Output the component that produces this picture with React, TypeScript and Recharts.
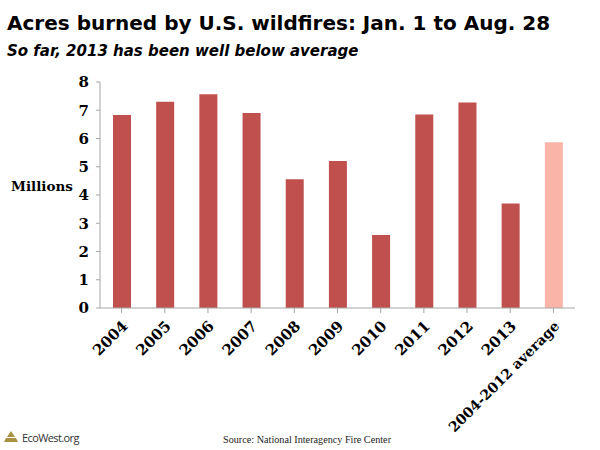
import { BarChart, Bar, Cell, XAxis, YAxis } from "recharts";

const years = ["2004", "2005", "2006", "2007", "2008", "2009", "2010", "2011", "2012", "2013", "2004-2012 average"];
const acres = [6.83, 7.3, 7.57, 6.9, 4.56, 5.2, 2.58, 6.85, 7.27, 3.7, 5.87];
const yTicks = [0, 1, 2, 3, 4, 5, 6, 7, 8];

const data = years.map((year, i) => ({ year, acres: acres[i] }));

const AXIS_FONT = "'DejaVu Serif', serif";
const BAR = "#c0504d";
const BAR_AVG = "#fbb4a8";

function YearTick({ x, y, payload }: any) {
    // the long label already fits at 14, the plain years read a bit wider in the original
    const size = payload.value.length > 4 ? 14 : 15;
    return (
        <text
            x={x + 7}
            y={y + 12}
            transform={`rotate(-45 ${x + 7} ${y + 12})`}
            textAnchor="end"
            fontFamily={AXIS_FONT}
            fontWeight="bold"
            fontSize={size}
            fill="#000"
        >
            {payload.value}
        </text>
    );
}

export default function App() {
    return (
        <div style={{ position: "absolute", left: 0, top: 0, width: 600, height: 450, background: "#fff", overflow: "hidden" }}>
            <BarChart
                width={600}
                height={450}
                data={data}
                margin={{ top: 82, right: 25, bottom: 132, left: 60 }}
                barSize={18}
            >
                <XAxis
                    dataKey="year"
                    interval={0}
                    height={10}
                    tick={<YearTick />}
                    tickLine={{ stroke: "#a6a6a6" }}
                    axisLine={{ stroke: "#a6a6a6" }}
                    tickSize={5}
                />
                <YAxis
                    width={40}
                    domain={[0, 8]}
                    ticks={yTicks}
                    interval={0}
                    tick={{ fontFamily: AXIS_FONT, fontWeight: "bold", fontSize: 15, fill: "#000" }}
                    tickLine={{ stroke: "#a6a6a6" }}
                    axisLine={{ stroke: "#a6a6a6" }}
                    tickSize={4}
                    tickMargin={7}
                />
                <Bar dataKey="acres" isAnimationActive={false}>
                    {data.map((d, i) => (
                        <Cell key={d.year} fill={i === years.length - 1 ? BAR_AVG : BAR} />
                    ))}
                </Bar>
            </BarChart>

            <div style={{ position: "absolute", left: 7, top: 11, fontFamily: "'DejaVu Sans', sans-serif", fontWeight: "bold", fontSize: 20, color: "#000", whiteSpace: "nowrap" }}>
                Acres burned by U.S. wildfires: Jan. 1 to Aug. 28
            </div>
            <div style={{ position: "absolute", left: 7, top: 42, fontFamily: "'DejaVu Sans', sans-serif", fontWeight: "bold", fontStyle: "italic", fontSize: 15, color: "#000", whiteSpace: "nowrap" }}>
                So far, 2013 has been well below average
            </div>
            <div style={{ position: "absolute", left: 11, top: 178, fontFamily: "'DejaVu Serif', serif", fontWeight: "bold", fontSize: 13.5, color: "#000" }}>
                Millions
            </div>
            <div style={{ position: "absolute", left: 22, top: 430, fontFamily: "'Open Sans', sans-serif", fontSize: 11, letterSpacing: -0.6, color: "#333" }}>
                EcoWest.org
            </div>
            <svg style={{ position: "absolute", left: 4, top: 431 }} width={14} height={12}>
                <polygon points="7,0 11,6 3,6" fill="#a8913f" />
                <polygon points="2,7 12,7 14,11 0,11" fill="#a8913f" />
            </svg>
            <div style={{ position: "absolute", left: 223, top: 434, fontFamily: "'Liberation Serif', serif", fontSize: 10.2, color: "#222", whiteSpace: "nowrap" }}>
                Source: National Interagency Fire Center
            </div>
        </div>
    );
}
